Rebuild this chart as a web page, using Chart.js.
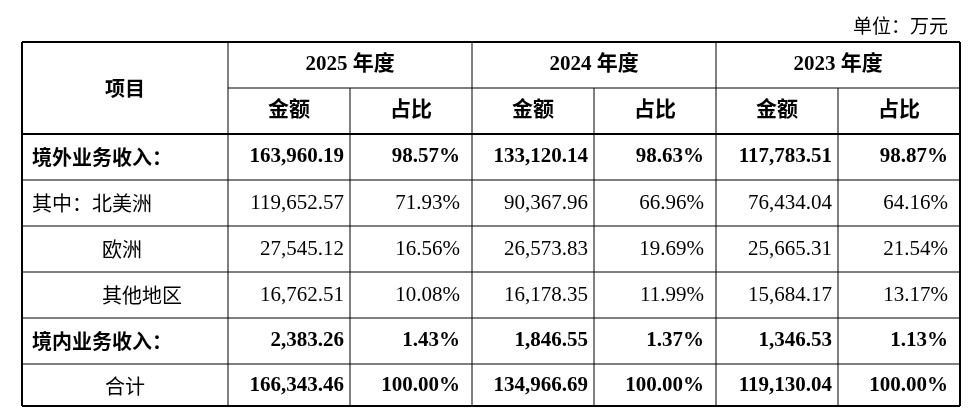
<!DOCTYPE html>
<html><head><meta charset="utf-8">
<script src="https://cdn.jsdelivr.net/npm/chart.js@4"></script>
<style>html,body{margin:0;padding:0;background:#fff}#w{width:972px;height:408px}</style>
</head><body><div id="w"><canvas id="c"></canvas></div>
<script>
const unitLabel = "单位：万元";
const itemHeader = "项目";
const years = ["2025 年度", "2024 年度", "2023 年度"];
const subHeaders = ["金额", "占比"];
const rowLabels = ["境外业务收入：", "其中：北美洲", "欧洲", "其他地区", "境内业务收入：", "合计"];
const amounts2025 = ["163,960.19", "119,652.57", "27,545.12", "16,762.51", "2,383.26", "166,343.46"];
const shares2025 = ["98.57%", "71.93%", "16.56%", "10.08%", "1.43%", "100.00%"];
const amounts2024 = ["133,120.14", "90,367.96", "26,573.83", "16,178.35", "1,846.55", "134,966.69"];
const shares2024 = ["98.63%", "66.96%", "19.69%", "11.99%", "1.37%", "100.00%"];
const amounts2023 = ["117,783.51", "76,434.04", "25,665.31", "15,684.17", "1,346.53", "119,130.04"];
const shares2023 = ["98.87%", "64.16%", "21.54%", "13.17%", "1.13%", "100.00%"];
const boldRows = [true, false, false, false, true, true];

const cols = [22, 228, 350, 472, 594, 716, 838, 960];
const rowsY = [42, 88, 134, 180, 226, 272, 318, 364, 408];
const SERIF = '"Liberation Serif","Noto Sans CJK SC",serif';
const CJK = '"Noto Sans CJK SC",sans-serif';

const tablePlugin = {
  id: 'table',
  afterDraw(chart) {
    const ctx = chart.ctx;
    ctx.save();
    ctx.fillStyle = '#fff'; ctx.fillRect(0,0,972,408);
    ctx.fillStyle = '#000'; ctx.textBaseline = 'middle';
    ctx.font = '19px ' + CJK; ctx.textAlign = 'right';
    ctx.fillText(unitLabel, 948, 26);
    ctx.strokeStyle = '#000';
    const line = (x1,y1,x2,y2,w)=>{ctx.lineWidth=w;ctx.beginPath();ctx.moveTo(x1,y1);ctx.lineTo(x2,y2);ctx.stroke();};
    line(cols[0],rowsY[0],cols[7],rowsY[0],2);
    line(cols[1],rowsY[1],cols[7],rowsY[1],1);
    line(cols[0],rowsY[2],cols[7],rowsY[2],2);
    for (let i=3;i<rowsY.length-1;i++) line(cols[0],rowsY[i],cols[7],rowsY[i],1);
    line(cols[0],406,cols[7],406,2);
    line(cols[0],rowsY[0],cols[0],406,2);
    line(cols[7],rowsY[0],cols[7],406,2);
    [1,3,5].forEach(i=>line(cols[i],rowsY[0],cols[i],406,1));
    [2,4,6].forEach(i=>line(cols[i],rowsY[1],cols[i],406,1));
    ctx.textAlign='center';
    ctx.font='bold 20px '+CJK;
    ctx.fillText(itemHeader,(cols[0]+cols[1])/2,rowsY[1]);
    years.forEach((y,i)=>{ctx.font='bold 21px '+SERIF;ctx.fillText(y,(cols[1+2*i]+cols[3+2*i])/2,(rowsY[0]+rowsY[1])/2);
      subHeaders.forEach((s,j)=>{ctx.fillText(s,(cols[1+2*i+j]+cols[2+2*i+j])/2,(rowsY[1]+rowsY[2])/2);});});
    const data=[amounts2025,shares2025,amounts2024,shares2024,amounts2023,shares2023];
    rowLabels.forEach((lab,r)=>{
      const yc=(rowsY[2+r]+rowsY[3+r])/2;
      const b=boldRows[r]?'bold ':'';
      ctx.font=(r===5?'':b)+'20px '+CJK;
      if(r===5){ctx.textAlign='center';ctx.fillText(lab,125,yc);}
      else if(r===2||r===3){ctx.textAlign='left';ctx.fillText(lab,102,yc);}
      else {ctx.textAlign='left';ctx.fillText(lab,32,yc);}
      ctx.font=b+'21px '+SERIF; ctx.textAlign='right';
      data.forEach((arr,c)=>ctx.fillText(arr[r],cols[c+2]-(c%2?12:6),yc));
    });
    ctx.restore();
  }
};
new Chart(document.getElementById('c'),{
  type:'bar',
  data:{labels:rowLabels,datasets:[]},
  options:{responsive:true,maintainAspectRatio:false,animation:false,
    plugins:{legend:{display:false},tooltip:{enabled:false}},
    scales:{x:{display:false},y:{display:false}}},
  plugins:[tablePlugin]
});
</script></body></html>
